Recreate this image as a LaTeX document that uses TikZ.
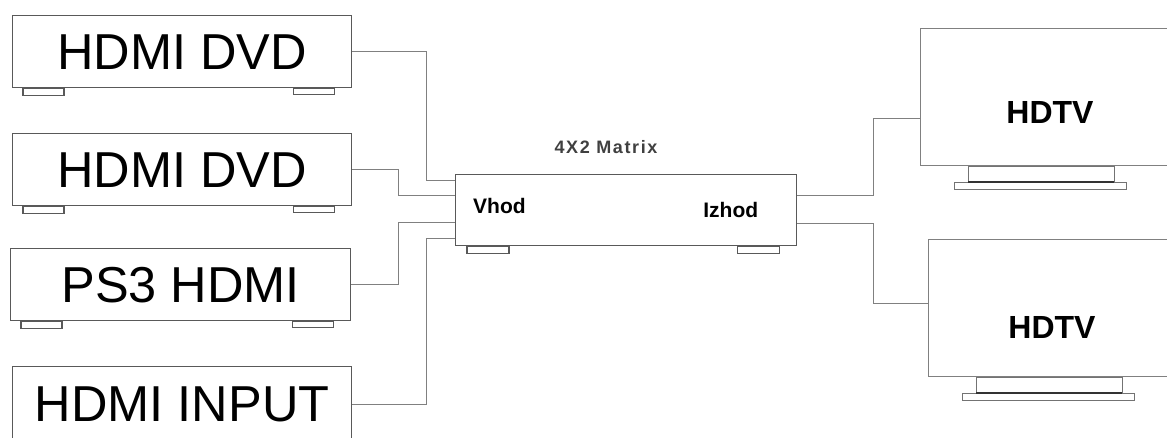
\documentclass[tikz,border=0pt]{standalone}
\usepackage{fontspec}
\setmainfont{Liberation Sans}
\usetikzlibrary{calc}
\tikzset{
  device/.style={draw=black!65, line width=1.4pt, fill=white, minimum width=339pt,
    minimum height=72pt, inner sep=0pt, anchor=north west},
  big/.style={font=\fontsize{50.5}{50.5}\selectfont},
  foot/.style={draw=black!65, line width=1.2pt},
  wire/.style={draw=black!50, line width=0.9pt},
  port/.style={font=\bfseries\fontsize{21}{21}\selectfont, inner sep=0pt},
  screen/.style={draw=black!50, line width=1pt, minimum width=250pt,
    minimum height=137pt, inner sep=0pt, anchor=north west},
  tvlabel/.style={font=\bfseries\fontsize{32}{32}\selectfont, inner sep=0pt},
  stand/.style={draw=black!55, line width=1pt}
}
\begin{document}
\begin{tikzpicture}[x=1pt,y=-1pt]
        \useasboundingbox (0,0) rectangle (1167,437);
        % sources
        \node[device,big] (dvd1) at (12,15) {HDMI DVD};
        \node[device,big] (dvd2) at (12,133) {HDMI DVD};
        \node[device,big,minimum width=340pt] (ps3) at (10,248) {PS3 HDMI};
        \node[device,big,minimum height=75pt] (input) at (12,366) {HDMI INPUT};
        \foreach \n in {dvd1,dvd2,ps3}{
            \draw[foot] ($(\n.south west)+(11,0)$) rectangle ++(41,7);
            \draw[foot] ($(\n.south east)+(-59,0)$) rectangle ++(41,6);
        }
        % matrix
        \node[device,minimum width=341pt,minimum height=71pt] (mtx) at (455,174) {};
        \draw[foot] ($(mtx.south west)+(12,0)$) rectangle ++(42,7);
        \draw[foot] ($(mtx.south east)+(-60,0)$) rectangle ++(42,7);
        \node[font=\bfseries\fontsize{18}{18}\selectfont\addfontfeature{LetterSpace=9},
            text=black!75, anchor=base] (title) at (606,153) {4X2 Matrix};
        \node[port,anchor=base west] (vhod) at ($(mtx.north west)+(18,39)$) {Vhod};
        \node[port,anchor=base east] (izhod) at ($(mtx.north east)+(-39,43)$) {Izhod};
        \coordinate (in1) at ($(mtx.north west)+(0,6)$);
        \coordinate (in2) at ($(mtx.north west)+(0,21)$);
        \coordinate (in3) at ($(mtx.north west)+(0,48)$);
        \coordinate (in4) at ($(mtx.north west)+(0,64)$);
        \coordinate (out1) at ($(mtx.north east)+(0,21)$);
        \coordinate (out2) at ($(mtx.north east)+(0,49)$);
        \draw[wire] (dvd1.east) -- ++(74,0) |- (in1);
        \draw[wire] (dvd2.east) -- ++(46,0) |- (in2);
        \draw[wire] (ps3.east) -- ++(47,0) |- (in3);
        \draw[wire] (input.east) -- ++(74,0) |- (in4);
        % displays
        \node[screen] (tv1) at (920,28) {};
        \node[screen] (tv2) at (928,239) {};
        \node[tvlabel] (tv1txt) at ($(tv1.north west)+(130,84)$) {HDTV};
        \node[tvlabel] (tv2txt) at ($(tv2.north west)+(124,88)$) {HDTV};
        \foreach \n in {tv1,tv2}{
            \draw[stand] ($(\n.south west)+(48,0)$) rectangle ++(146,16);
            \draw[stand] ($(\n.south west)+(34,16)$) rectangle ++(172,7);
            \draw[black!80, line width=1.5pt] ($(\n.south west)+(48,16)$) -- ++(146,0);
        }
        \draw[wire] (out1) -- ++(76,0) |- ($(tv1.south west)+(0,-48)$);
        \draw[wire] (out2) -- ++(76,0) |- ($(tv2.west)+(0,-5)$);
    \end{tikzpicture}
\end{document}
